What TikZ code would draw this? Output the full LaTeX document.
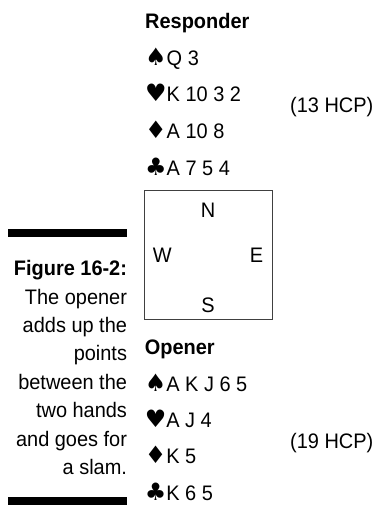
\documentclass[tikz,border=0pt]{standalone}
\usepackage{fontspec}
\setmainfont{Liberation Sans}[FakeStretch=0.95]
\newfontfamily\suitfont{DejaVu Sans}
\usetikzlibrary{positioning}

\newcommand{\spd}{{\suitfont\fontsize{24}{25}\selectfont ♠}}
\newcommand{\hrt}{{\suitfont\fontsize{24}{25}\selectfont ♥}}
\newcommand{\dmd}{{\suitfont\fontsize{24}{25}\selectfont ♦}}
\newcommand{\clb}{{\suitfont\fontsize{24}{25}\selectfont ♣}}

\begin{document}
\begin{tikzpicture}[
    x=1pt, y=-1pt,
    node distance=16.5pt,
    every node/.style={inner sep=0pt},
    hand/.style={anchor=north west, text height=15pt, text depth=4pt, font=\fontsize{21}{25}\selectfont},
    title/.style={hand, font=\fontsize{21}{25}\selectfont\bfseries},
    hcp/.style={anchor=base west, font=\fontsize{21}{25}\selectfont},
    compass/.style={text height=15pt, text depth=0pt, font=\fontsize{21}{25}\selectfont},
    board/.style={draw=black!75, line width=0.8pt, minimum width=128pt, minimum height=129pt},
    bar/.style={fill=black, minimum width=119pt, minimum height=8pt},
    caption/.style={anchor=north east, align=right, font=\fontsize{21}{28.4}\selectfont}
]
\useasboundingbox (0,0) rectangle (372,505);

% responder
\node[title] (resp) at (145,13) {Responder};
\node[hand, below=17.5pt of resp.south west, anchor=north west] (rspade) {\spd Q 3};
\node[hand, below=17.5pt of rspade.south west, anchor=north west] (rheart) {\hrt K 10 3 2};
\node[hand, below=17.5pt of rheart.south west, anchor=north west] (rdiam) {\dmd A 10 8};
\node[hand, below=17.5pt of rdiam.south west, anchor=north west] (rclub) {\clb A 7 5 4};
\node[hcp] (rhcp) at (290,113) {(13 HCP)};

% table
\node[board] (table) at (208,254.5) {};
\node[compass, below=13pt of table.north] (north) {N};
\node[compass, right=9pt of table.west] (west) {W};
\node[compass, left=9pt of table.east] (east) {E};
\node[compass, above=7pt of table.south] (south) {S};

% opener
\node[title, below=20pt of table.south west, anchor=north west, xshift=1pt] (open) {Opener};
\node[hand, below=17pt of open.south west, anchor=north west] (ospade) {\spd A K J 6 5};
\node[hand, below=17pt of ospade.south west, anchor=north west] (oheart) {\hrt A J 4};
\node[hand, below=17pt of oheart.south west, anchor=north west] (odiam) {\dmd K 5};
\node[hand, below=17pt of odiam.south west, anchor=north west] (oclub) {\clb K 6 5};
\node[hcp] (ohcp) at (290,448) {(19 HCP)};

% caption
\node[bar] (topbar) at (67.5,233) {};
\node[caption, below=23pt of topbar.south east, anchor=north east] (cap)
    {{\bfseries Figure 16-2:}\\The opener\\adds up the\\points\\between the\\two hands\\and goes for\\a slam.};
\node[bar] (botbar) at (67.5,501) {};

\end{tikzpicture}
\end{document}
